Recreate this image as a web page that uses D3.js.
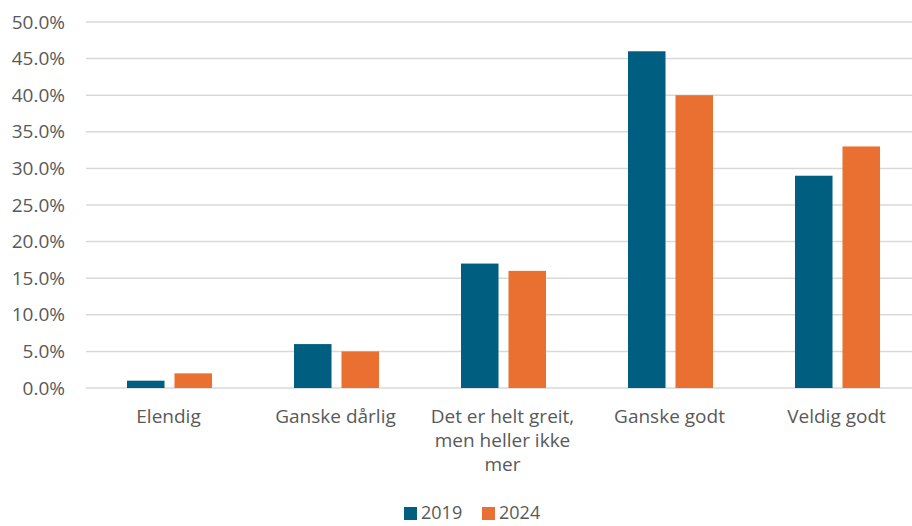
<!DOCTYPE html>
<html>
<head>
    <meta charset="utf-8" />
    <title></title>
    <style>
        body { margin: 0; background: #fff; }
        text {
            font-family: "Open Sans", sans-serif;
            fill: #595959;
        }
        .grid line { stroke: #d9d9d9; stroke-width: 1.5px; }
    </style>
</head>
<body>
    <script src="https://d3js.org/d3.v7.min.js"></script>
    <script>
      var categories = ["Elendig", "Ganske dårlig", "Det er helt greit, men heller ikke mer", "Ganske godt", "Veldig godt"];
      var catLines = [["Elendig"], ["Ganske dårlig"], ["Det er helt greit,", "men heller ikke", "mer"], ["Ganske godt"], ["Veldig godt"]];
      var seriesNames = ["2019", "2024"];
      var values2019 = [0.01, 0.06, 0.17, 0.46, 0.29];
      var values2024 = [0.02, 0.05, 0.16, 0.40, 0.33];
      var yTicks = [0, 0.05, 0.10, 0.15, 0.20, 0.25, 0.30, 0.35, 0.40, 0.45, 0.50];
      var colors = ["#005f80", "#e97030"];

      var width = 912, height = 526;
      var margin = {top: 22, bottom: 138, left: 86};

      var svg = d3.select("body").append("svg")
          .attr("width", width)
          .attr("height", height);

      // plot area runs a little past the right edge of the picture
      var x = d3.scaleBand()
          .domain(categories)
          .range([margin.left, margin.left + 835]);

      var x1 = d3.scaleBand()
          .domain(seriesNames)
          .range([0, x.bandwidth()])
          .paddingInner(0.21)
          .paddingOuter(0.863);

      var y = d3.scaleLinear()
          .domain([0, 0.5])
          .range([height - margin.bottom, margin.top]);

      // gridlines
      svg.append("g").attr("class", "grid")
        .selectAll("line")
        .data(yTicks)
        .enter().append("line")
        .attr("x1", margin.left)
        .attr("x2", width)
        .attr("y1", function(d) { return y(d); })
        .attr("y2", function(d) { return y(d); });

      // y labels
      svg.append("g")
        .selectAll("text")
        .data(yTicks)
        .enter().append("text")
        .attr("x", 65)
        .attr("y", function(d) { return y(d); })
        .attr("dy", "0.35em")
        .attr("text-anchor", "end")
        .style("font-size", "19px")
        .text(function(d) { return (d * 100).toFixed(1) + "%"; });

      var data = [values2019, values2024];

      var groups = svg.append("g")
        .selectAll("g")
        .data(data)
        .enter().append("g")
        .attr("fill", function(d, i) { return colors[i]; });

      groups.selectAll("rect")
        .data(function(d, i) { return d.map(function(v, j) { return {v: v, cat: categories[j], s: seriesNames[i]}; }); })
        .enter().append("rect")
        .attr("x", function(d) { return x(d.cat) + x1(d.s); })
        .attr("width", x1.bandwidth())
        .attr("y", function(d) { return y(d.v); })
        .attr("height", function(d) { return y(0) - y(d.v); });

      // category labels
      var catG = svg.append("g")
        .selectAll("text")
        .data(categories)
        .enter().append("text")
        .attr("x", function(d) { return x(d) + x.bandwidth() / 2 - 1; })
        .attr("y", 423)
        .attr("text-anchor", "middle")
        .style("font-size", "19px");

      catG.selectAll("tspan")
        .data(function(d, i) { return catLines[i]; })
        .enter().append("tspan")
        .attr("x", function() { return d3.select(this.parentNode).attr("x"); })
        .attr("dy", function(d, i) { return i === 0 ? 0 : 24; })
        .text(function(d) { return d; });

      // legend (pulled up a touch so the text is not clipped)
      var legend = svg.append("g")
        .selectAll("g")
        .data(seriesNames)
        .enter().append("g")
        .attr("transform", function(d, i) { return "translate(" + (404 + i * 78) + ",507)"; });

      legend.append("rect")
        .attr("width", 13)
        .attr("height", 13)
        .attr("fill", function(d, i) { return colors[i]; });

      legend.append("text")
        .attr("x", 17)
        .attr("y", 6)
        .attr("dy", "0.35em")
        .style("font-size", "18px")
        .text(function(d) { return d; });
    </script>
</body>
</html>
